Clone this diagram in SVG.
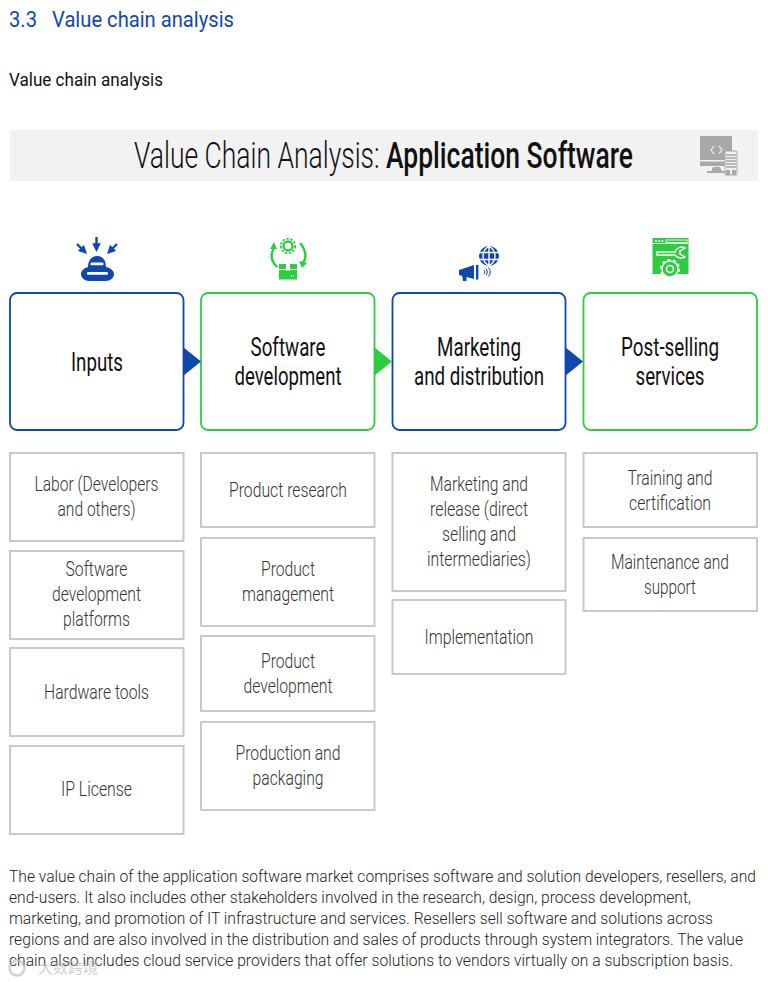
<svg xmlns="http://www.w3.org/2000/svg" width="768" height="982" viewBox="0 0 768 982">
<style>
text{font-family:Roboto,"Liberation Sans",sans-serif;fill:#111}
.h{font-size:22px;fill:#1048b4}
.t{font-size:19px}
.tt{font-size:36px;font-weight:300}
.tb{font-weight:500}
.hd{font-size:25px;text-anchor:middle;font-weight:400}
.it{font-size:21px;font-weight:300;text-anchor:middle;fill:#333}
.p{font-size:15.800px;font-weight:300;fill:#222}
.blue{fill:#fff;stroke:#0f47af;stroke-width:1.800}
.green{fill:#fff;stroke:#2ecc40;stroke-width:1.800}
.box{fill:#fff;stroke:#c9c9c9;stroke-width:2}
.fb{fill:#0f47af}.fg{fill:#2ecc40}
.sb{fill:none;stroke:#0f47af;stroke-width:2.400}
.sg{fill:none;stroke:#2ecc40;stroke-width:2.400}
.sw{fill:none;stroke:#fff;stroke-width:1.400}
</style>
<defs>
<marker id="ab" viewBox="0 0 6 6" refX="4" refY="3" markerWidth="3.600" markerHeight="3.600" orient="auto"><path d="M0 0L6 3L0 6Z" fill="#0f47af"/></marker>
</defs>
<text class="h" x="9" y="27" textLength="225" lengthAdjust="spacingAndGlyphs" xml:space="preserve">3.3   Value chain analysis</text>
<text class="t" x="9" y="86" textLength="154" lengthAdjust="spacingAndGlyphs">Value chain analysis</text>
<g id="banner">
<rect x="10" y="130" width="748" height="51" fill="#f2f2f2"/>
<text class="tt" x="134" y="168" textLength="499" lengthAdjust="spacingAndGlyphs">Value Chain Analysis: <tspan class="tb">Application Software</tspan></text>
<g id="banner-icon">
<rect x="700" y="136" width="32" height="30" fill="#a8a8a8"/>
<rect x="700" y="160" width="32" height="1.500" fill="#f2f2f2"/>
<path d="M711 172L713 167H720L722 172Z" fill="#a8a8a8"/>
<rect x="707" y="171" width="19" height="2" fill="#a8a8a8"/>
<path d="M714 146L711 150L714 154M719 146L722 150L719 154" fill="none" stroke="#f2f2f2" stroke-width="1.200"/>
<rect x="725" y="151" width="12" height="24" rx="1" fill="#f2f2f2" stroke="#a8a8a8" stroke-width="1"/>
<path d="M726 155H736M726 158H736M726 161H736M726 164H736M726 167H736" stroke="#a8a8a8" stroke-width="1.400"/>
<rect x="726" y="170" width="4" height="5" fill="#a8a8a8"/><rect x="732" y="170" width="4" height="5" fill="#a8a8a8"/>
</g>
</g>
<g id="icon-inputs">
<path class="fb" d="M97 256C104 256 106 262 106 267C112 268 114 272 114 274C114 278 110 281 106 281H89C85 281 81 278 81 274C81 271 84 268 88 267C88 261 91 256 97 256Z"/>
<rect x="90.500" y="262.500" width="13" height="2.800" rx="1" fill="#fff"/>
<rect x="87" y="272" width="21" height="2.800" rx="1" fill="#fff"/>
<path d="M96.500 237V249" class="sb" marker-end="url(#ab)"/>
<path d="M77 244L85 252" class="sb" marker-end="url(#ab)"/>
<path d="M117 244L109 252" class="sb" marker-end="url(#ab)"/>
</g>
<g id="icon-software">
<circle cx="288" cy="246" r="4.500" class="sg"/>
<circle cx="288" cy="246" r="7.200" fill="none" stroke="#2ecc40" stroke-width="1.800" stroke-dasharray="2.400 1.600"/>
<path class="sg" d="M274 248Q268 258 277 267"/>
<path class="fg" d="M270 249L274 242L277 249Z"/>
<path class="sg" d="M300 243Q309 254 303 263"/>
<path class="fg" d="M299 261L307 263L302 268Z"/>
<rect x="279" y="264" width="18" height="15.500" class="fg"/>
<path d="M279 269.500H297" stroke="#fff" stroke-width="1"/>
<rect x="286" y="264" width="4" height="6.500" fill="#fff"/>
<path d="M291 276H295" stroke="#fff" stroke-width="1" stroke-dasharray="1 1"/>
</g>
<g id="icon-marketing">
<circle cx="489" cy="256" r="10" class="fb"/>
<path class="sw" d="M479 252.500H499M479 259.500H499M489 246V266M489 246C481 251 481 261 489 266M489 246C497 251 497 261 489 266"/>
<path class="fb" d="M459 270L474 265V279L459 275Z"/>
<rect x="476" y="265" width="2.400" height="14.500" class="fb"/>
<path class="fb" d="M462 275H466.500L466.500 281H463Z"/>
<path d="M484 270Q486 272 484 274M486 268.500Q489 272 486 275.500M488.500 267.500Q492 272 488.500 276.500" fill="none" stroke="#0f47af" stroke-width="1"/>
</g>
<g id="icon-services">
<rect x="652.500" y="238" width="36" height="36" class="fg"/>
<path d="M652.500 243.500H688.500" stroke="#fff" stroke-width="1"/>
<rect x="666" y="240" width="21" height="2.500" fill="none" stroke="#fff" stroke-width="0.800"/>
<path d="M655 241H664" stroke="#fff" stroke-width="1.500" stroke-dasharray="2 1.200"/>
<path class="sw" d="M657 252H675C677 247 682 246 685 248L680 251V254L685 257C682 259 677 258 675 255H657Z"/>
<circle cx="670" cy="269" r="8" fill="#2ecc40" stroke="#fff" stroke-width="1.400"/>
<circle cx="670" cy="269" r="3.500" class="sw"/>
<circle cx="670" cy="269" r="9" fill="none" stroke="#fff" stroke-width="2.200" stroke-dasharray="2.800 2.850"/>
</g>
<g id="inputs"><rect class="blue" x="10" y="293" width="173.500" height="137" rx="7"/><text class="hd" x="97" y="371" textLength="52" lengthAdjust="spacingAndGlyphs">Inputs</text></g>
<g id="software-development"><rect class="green" x="201" y="293" width="173.500" height="137" rx="7"/><text class="hd" x="288" y="356" textLength="75" lengthAdjust="spacingAndGlyphs">Software</text><text class="hd" x="288" y="385" textLength="107" lengthAdjust="spacingAndGlyphs">development</text></g>
<g id="marketing-distribution"><rect class="blue" x="392.500" y="293" width="173" height="137" rx="7"/><text class="hd" x="479" y="356" textLength="84" lengthAdjust="spacingAndGlyphs">Marketing</text><text class="hd" x="479" y="385" textLength="130" lengthAdjust="spacingAndGlyphs">and distribution</text></g>
<g id="post-selling"><rect class="green" x="583.500" y="293" width="173.500" height="137" rx="7"/><text class="hd" x="670" y="356" textLength="98" lengthAdjust="spacingAndGlyphs">Post-selling</text><text class="hd" x="670" y="385" textLength="69" lengthAdjust="spacingAndGlyphs">services</text></g>
<g id="connectors">
<path class="fb" d="M183 347L201 361.500L183 376Z"/>
<path class="fg" d="M374 347L392 361.500L374 376Z"/>
<path class="fb" d="M565 347L583 361.500L565 376Z"/>
</g>
<g id="c1-1"><rect class="box" x="10" y="453" width="173.500" height="88"/><text class="it" x="96.500" y="491" textLength="124" lengthAdjust="spacingAndGlyphs">Labor (Developers</text><text class="it" x="96.500" y="516" textLength="78" lengthAdjust="spacingAndGlyphs">and others)</text></g>
<g id="c1-2"><rect class="box" x="10" y="551" width="173.500" height="88"/><text class="it" x="96.500" y="576" textLength="62" lengthAdjust="spacingAndGlyphs">Software</text><text class="it" x="96.500" y="601" textLength="89" lengthAdjust="spacingAndGlyphs">development</text><text class="it" x="96.500" y="626" textLength="67" lengthAdjust="spacingAndGlyphs">platforms</text></g>
<g id="c1-3"><rect class="box" x="10" y="648" width="173.500" height="88"/><text class="it" x="96.500" y="699" textLength="105" lengthAdjust="spacingAndGlyphs">Hardware tools</text></g>
<g id="c1-4"><rect class="box" x="10" y="746" width="173.500" height="88"/><text class="it" x="96.500" y="796" textLength="71" lengthAdjust="spacingAndGlyphs">IP License</text></g>
<g id="c2-1"><rect class="box" x="201" y="453" width="173.500" height="74"/><text class="it" x="288" y="497" textLength="118" lengthAdjust="spacingAndGlyphs">Product research</text></g>
<g id="c2-2"><rect class="box" x="201" y="538" width="173.500" height="88"/><text class="it" x="288" y="576" textLength="54" lengthAdjust="spacingAndGlyphs">Product</text><text class="it" x="288" y="601" textLength="92" lengthAdjust="spacingAndGlyphs">management</text></g>
<g id="c2-3"><rect class="box" x="201" y="636" width="173.500" height="75"/><text class="it" x="288" y="668" textLength="54" lengthAdjust="spacingAndGlyphs">Product</text><text class="it" x="288" y="693" textLength="89" lengthAdjust="spacingAndGlyphs">development</text></g>
<g id="c2-4"><rect class="box" x="201" y="722" width="173.500" height="88"/><text class="it" x="288" y="760" textLength="105" lengthAdjust="spacingAndGlyphs">Production and</text><text class="it" x="288" y="785" textLength="71" lengthAdjust="spacingAndGlyphs">packaging</text></g>
<g id="c3-1"><rect class="box" x="392.500" y="453" width="173" height="138"/><text class="it" x="479" y="491" textLength="98" lengthAdjust="spacingAndGlyphs">Marketing and</text><text class="it" x="479" y="516" textLength="98" lengthAdjust="spacingAndGlyphs">release (direct</text><text class="it" x="479" y="541" textLength="74" lengthAdjust="spacingAndGlyphs">selling and</text><text class="it" x="479" y="566" textLength="104" lengthAdjust="spacingAndGlyphs">intermediaries)</text></g>
<g id="c3-2"><rect class="box" x="392.500" y="600" width="173" height="74"/><text class="it" x="479" y="644" textLength="109" lengthAdjust="spacingAndGlyphs">Implementation</text></g>
<g id="c4-1"><rect class="box" x="583.500" y="453" width="173.500" height="74"/><text class="it" x="670" y="485" textLength="85" lengthAdjust="spacingAndGlyphs">Training and</text><text class="it" x="670" y="510" textLength="82" lengthAdjust="spacingAndGlyphs">certification</text></g>
<g id="c4-2"><rect class="box" x="583.500" y="538" width="173.500" height="73"/><text class="it" x="670" y="569" textLength="118" lengthAdjust="spacingAndGlyphs">Maintenance and</text><text class="it" x="670" y="594" textLength="52" lengthAdjust="spacingAndGlyphs">support</text></g>
<g id="body">
<text class="p" x="9" y="882" textLength="747" lengthAdjust="spacingAndGlyphs">The value chain of the application software market comprises software and solution developers, resellers, and</text>
<text class="p" x="9" y="903" textLength="682" lengthAdjust="spacingAndGlyphs">end-users. It also includes other stakeholders involved in the research, design, process development,</text>
<text class="p" x="9" y="924" textLength="704" lengthAdjust="spacingAndGlyphs">marketing, and promotion of IT infrastructure and services. Resellers sell software and solutions across</text>
<text class="p" x="9" y="945" textLength="734" lengthAdjust="spacingAndGlyphs">regions and are also involved in the distribution and sales of products through system integrators. The value</text>
<text class="p" x="9" y="966" textLength="724" lengthAdjust="spacingAndGlyphs">chain also includes cloud service providers that offer solutions to vendors virtually on a subscription basis.</text>
</g>
<g id="watermark" opacity="0.6">
<circle cx="17" cy="968" r="7.500" fill="none" stroke="#b5b5b5" stroke-width="2.500"/>
<text x="38" y="973" font-size="15" style="fill:#b5b5b5;font-family:'Noto Sans CJK SC',sans-serif">大数跨境</text>
</g>
</svg>
